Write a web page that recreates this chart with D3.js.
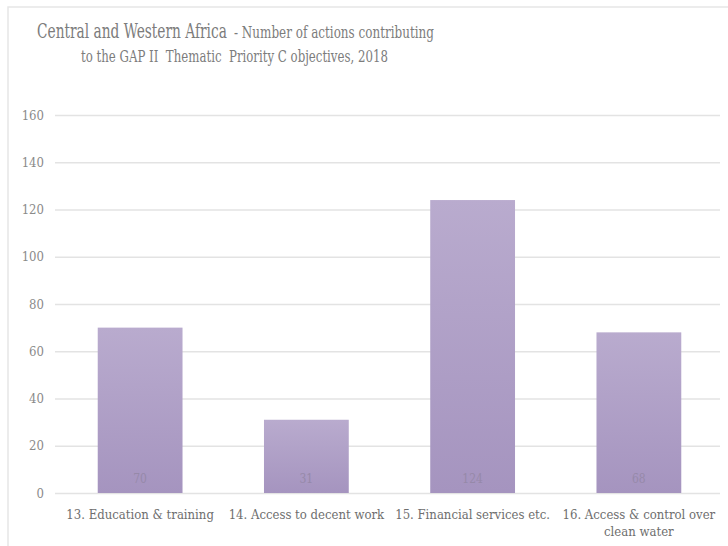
<!DOCTYPE html>
<html><head><meta charset="utf-8">
<script src="https://cdn.jsdelivr.net/npm/d3@7/dist/d3.min.js"></script>
<style>body{margin:0;background:#fff;}svg{display:block;}</style>
</head><body>
<svg id="chart" width="728" height="546"></svg>
<script>
const categories = ["13. Education & training","14. Access to decent work","15. Financial services etc.","16. Access & control over clean water"];
const categoryLines = [["13. Education & training"],["14. Access to decent work"],["15. Financial services etc."],["16. Access & control over","clean water"]];
const values = [70, 31, 124, 68];
const yTicks = [0,20,40,60,80,100,120,140,160];
const titleMain = "Central and Western Africa";
const titleRest = "- Number of actions contributing";
const titleLine2 = "to the GAP II  Thematic  Priority C objectives, 2018";

const svg = d3.select("#chart");
const font = "'DejaVu Serif Condensed','DejaVu Serif',serif";

// frame
svg.append("rect").attr("x",8).attr("y",7).attr("width",740).attr("height",560)
  .attr("fill","#fff").attr("stroke","#e6e6e6").attr("stroke-width",1.5);

const x = d3.scaleBand().domain(categories).range([57,722]).paddingInner(0.49).paddingOuter(0.245);
const y = d3.scaleLinear().domain([0,160]).range([493,115]);

// gridlines
const yAxis = d3.axisLeft(y).tickValues(yTicks).tickSize(-(720-55)).tickPadding(11);
const gy = svg.append("g").attr("transform","translate(55,0)").call(yAxis);
gy.select(".domain").remove();
gy.selectAll(".tick line").attr("stroke","#e3e3e3").attr("stroke-width",1.5);
gy.selectAll(".tick text").attr("fill","#8a8a8a").attr("font-family",font).attr("font-size",13);

// gradient
const defs = svg.append("defs");
const grad = defs.append("linearGradient").attr("id","bg").attr("x1",0).attr("y1",0).attr("x2",0).attr("y2",1);
grad.append("stop").attr("offset","0%").attr("stop-color","#b9abce");
grad.append("stop").attr("offset","100%").attr("stop-color","#a594bf");

svg.append("g").selectAll("rect").data(values).join("rect")
  .attr("x",(d,i)=>x(categories[i]))
  .attr("y",d=>y(d))
  .attr("width",x.bandwidth())
  .attr("height",d=>y(0)-y(d))
  .attr("fill","url(#bg)");

// faint data labels
svg.append("g").selectAll("text").data(values).join("text")
  .attr("x",(d,i)=>x(categories[i])+x.bandwidth()/2)
  .attr("y",y(0)-10)
  .attr("text-anchor","middle")
  .attr("font-family",font).attr("font-size",12)
  .attr("fill","#9689a9")
  .text(d=>d);

// category labels
const gx = svg.append("g");
categoryLines.forEach((lines,i)=>{
  const cx = x(categories[i])+x.bandwidth()/2;
  const t = gx.append("text")
    .attr("x",cx).attr("y",519)
    .attr("text-anchor","middle")
    .attr("font-family",font).attr("font-size",13)
    .attr("fill","#6e6e6e");
  lines.forEach((l,j)=>t.append("tspan").attr("x",cx).attr("dy",j?17:0).text(l));
});

// title: fit each piece to its width with a horizontal scale
function fitText(str, x0, y0, size, width){
  const t = svg.append("text").attr("x",0).attr("y",0)
    .attr("font-family",font).attr("fill","#7c7c7c").attr("font-size",size)
    .style("white-space","pre").text(str);
  const len = t.node().getComputedTextLength();
  t.attr("transform",`translate(${x0},${y0}) scale(${width/len},1)`);
}
fitText(titleMain, 37, 38, 21, 190);
fitText(titleRest, 234, 38, 16, 200);
fitText(titleLine2, 81, 62, 16, 307);
</script>
</body></html>
